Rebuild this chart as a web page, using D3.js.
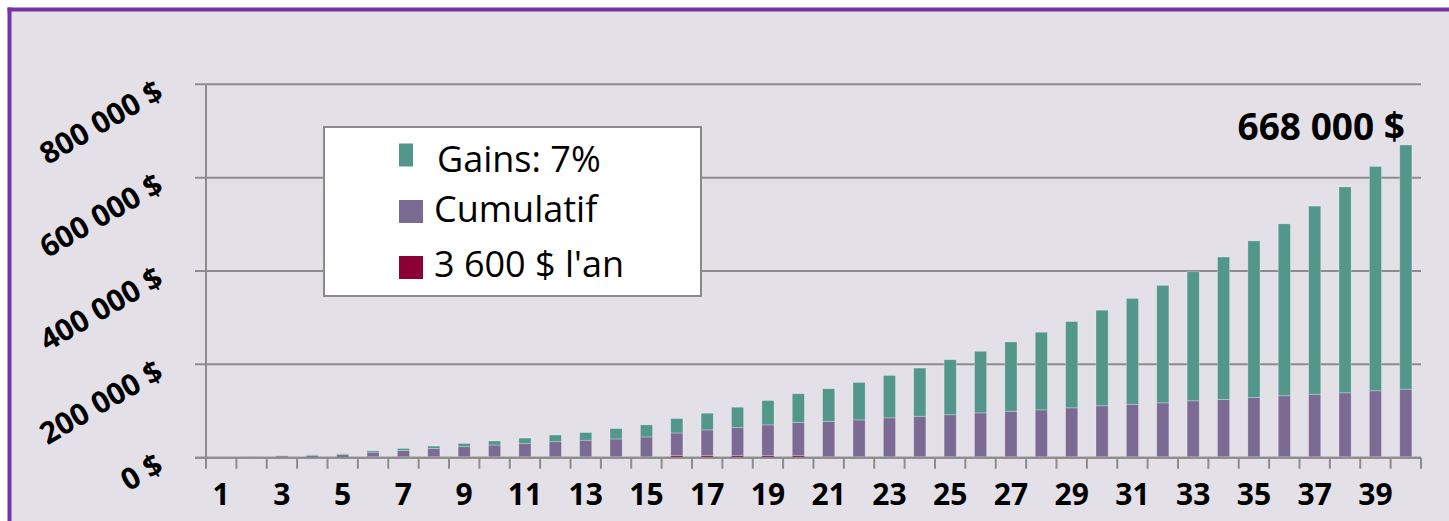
<!DOCTYPE html>
<html>
<head>
<meta charset="utf-8">
<script src="https://cdn.jsdelivr.net/npm/d3@7"></script>
<style>
  html, body { margin: 0; padding: 0; background: #ffffff; overflow: hidden; }
  svg { display: block; }
  text { font-family: "Open Sans", "Noto Sans", sans-serif; fill: #000; }
</style>
</head>
<body>
<svg id="chart" width="1449" height="521"></svg>
<script>
// ---- data ----
const years = d3.range(1, 41);
const seriesNames = ["3 600 $ l'an", "Cumulatif", "Gains: 7%"];
const deposit = [0, 0, 0, 0, 0, 2000, 2000, 2000, 2000, 2000,
  2000, 2000, 2000, 2000, 2000, 4300, 4300, 4300, 4300, 4300,
  2000, 2000, 2000, 2000, 2000, 2000, 2000, 2000, 2000, 2000,
  2000, 2000, 2000, 2000, 2000, 2000, 2000, 2000, 2000, 2000];
const cumulative = [2000, 2600, 3900, 5000, 6500, 9800, 13500, 17600, 21600, 25200,
  28000, 32300, 35500, 38200, 42500, 48700, 55300, 60200, 66000, 71600,
  76000, 79000, 83400, 86800, 90000, 94000, 97600, 100500, 104900, 109200,
  112600, 115600, 119900, 122700, 127000, 130700, 134000, 137000, 141400, 144900];
const gains = [300, 400, 400, 1200, 1900, 3000, 4300, 5200, 6900, 8600,
  12000, 14300, 16500, 22200, 25800, 30900, 35700, 43700, 52300, 61100,
  69700, 80300, 90900, 103200, 118000, 132000, 148400, 166300, 184900, 204800,
  226700, 251600, 276600, 305300, 335500, 368300, 403000, 441000, 480600, 523100];
const yTicks = [0, 200000, 400000, 600000, 800000];
const yTickLabels = ["0 $", "200 000 $", "400 000 $", "600 000 $", "800 000 $"];
const xLabelYears = years.filter(d => d % 2 === 1);
const finalLabel = "668 000 $";

// ---- styles ----
const colors = { "3 600 $ l'an": "#8B0035", "Cumulatif": "#7B6A93", "Gains: 7%": "#53968A" };
const gridColor = "#8C8C8C";

const svg = d3.select("#chart");

// frame: background + top and left purple border
svg.append("rect").attr("x", 0).attr("y", 0).attr("width", 1449).attr("height", 521).attr("fill", "#ffffff");
svg.append("rect").attr("x", 9).attr("y", 9).attr("width", 1440).attr("height", 512).attr("fill", "#E3E0E8");
svg.append("line").attr("x1", 7.5).attr("x2", 1449).attr("y1", 9.5).attr("y2", 9.5)
  .attr("stroke", "#7434A8").attr("stroke-width", 4);
svg.append("line").attr("x1", 9.5).attr("x2", 9.5).attr("y1", 7.5).attr("y2", 521)
  .attr("stroke", "#7434A8").attr("stroke-width", 4);

const plot = { left: 206, right: 1421, top: 84.3, bottom: 457.7 };

const x = d3.scaleBand().domain(years).range([plot.left, plot.right]).paddingInner(0.6).paddingOuter(0.3);
const y = d3.scaleLinear().domain([0, 800000]).range([plot.bottom, plot.top]);
const step = x.step();
const bw = x.bandwidth();
const gap = (step - bw) / 2;

// gridlines
svg.append("g").selectAll("line").data(yTicks).join("line")
  .attr("x1", plot.left - 11).attr("x2", plot.right)
  .attr("y1", d => y(d)).attr("y2", d => y(d))
  .attr("stroke", gridColor).attr("stroke-width", 2);

// stacked bars
const table = years.map((yr, i) => ({
  year: yr,
  [seriesNames[0]]: deposit[i],
  [seriesNames[1]]: cumulative[i],
  [seriesNames[2]]: gains[i]
}));
const stack = d3.stack().keys(seriesNames)(table);
svg.append("g").selectAll("g").data(stack).join("g")
  .attr("fill", d => colors[d.key])
  .selectAll("rect").data(d => d).join("rect")
  .attr("x", d => x(d.data.year))
  .attr("width", bw)
  .attr("y", d => y(d[1]))
  .attr("height", d => Math.max(0, y(d[0]) - y(d[1])))
  .attr("stroke", "rgba(255,255,255,0.35)")
  .attr("stroke-width", 0.8);

// y axis line
svg.append("line").attr("x1", plot.left).attr("x2", plot.left)
  .attr("y1", plot.top).attr("y2", plot.bottom)
  .attr("stroke", gridColor).attr("stroke-width", 2);

// x axis line and ticks (between categories)
svg.append("line").attr("x1", plot.left - 11).attr("x2", plot.right)
  .attr("y1", plot.bottom).attr("y2", plot.bottom)
  .attr("stroke", gridColor).attr("stroke-width", 2);
const tickPos = years.map(d => x(d) - gap).concat([x(years[years.length - 1]) + bw + gap]);
svg.append("g").selectAll("line").data(tickPos).join("line")
  .attr("x1", d => d).attr("x2", d => d)
  .attr("y1", plot.bottom).attr("y2", plot.bottom + 11)
  .attr("stroke", gridColor).attr("stroke-width", 2);

// x labels
svg.append("g").selectAll("text").data(xLabelYears).join("text")
  .attr("x", d => x(d) + bw / 2)
  .attr("y", 505)
  .attr("text-anchor", "middle")
  .attr("font-weight", "bold")
  .attr("font-size", 30)
  .text(d => d);

// y labels rotated
svg.append("g").selectAll("text").data(yTicks).join("text")
  .attr("transform", d => `translate(165,${y(d) + 13}) rotate(-30)`)
  .attr("text-anchor", "end")
  .attr("font-weight", "bold")
  .attr("font-size", 30)
  .text((d, i) => yTickLabels[i]);

// final value label
const last = years.length - 1;
svg.append("text")
  .attr("x", x(years[last]) + bw - 7)
  .attr("y", y(deposit[last] + cumulative[last] + gains[last]) - 5)
  .attr("text-anchor", "end")
  .attr("font-weight", "bold")
  .attr("font-size", 37)
  .text(finalLabel);

// legend
const lg = svg.append("g");
lg.append("rect").attr("x", 324).attr("y", 127).attr("width", 377).attr("height", 169)
  .attr("fill", "#ffffff").attr("stroke", "#8A8A8A").attr("stroke-width", 2);
const legendItems = [
  { name: seriesNames[2], sw: 14, sy: 143.5, ty: 171.5, tx: 437 },
  { name: seriesNames[1], sw: 24, sy: 200, ty: 221.7, tx: 434 },
  { name: seriesNames[0], sw: 24, sy: 256, ty: 277.3, tx: 434 }
];
legendItems.forEach(it => {
  lg.append("rect").attr("x", 399).attr("y", it.sy).attr("width", it.sw).attr("height", 23)
    .attr("fill", colors[it.name]);
  lg.append("text").attr("x", it.tx).attr("y", it.ty)
    .attr("font-size", 36)
    .text(it.name);
});
</script>
</body>
</html>
